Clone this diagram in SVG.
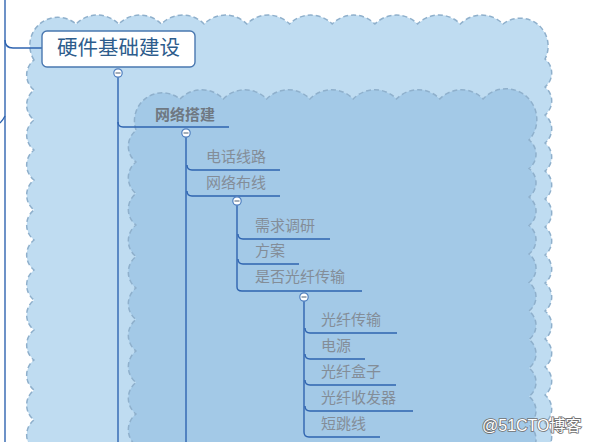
<svg xmlns="http://www.w3.org/2000/svg" width="591" height="442" viewBox="0 0 591 442">
<style>
.cloud{stroke:#8fb0cc;stroke-width:1.5;stroke-dasharray:5 3}
.ln{fill:none;stroke:#2f64b0;stroke-width:1.4}
.t{font-family:"Noto Sans CJK SC","Noto Sans",sans-serif;font-size:15px;fill:#838d98}
.tog{fill:#fff;stroke:#4f7fbf;stroke-width:1.2}
.minus{stroke:#6a7a8a;stroke-width:1.2}
</style>
<rect width="591" height="442" fill="#fff"/>
<g id="outer-cloud">
<path class="cloud" fill="#bfdcf1" d="M34,60 A28 28 0 0 1 76,24 a30 30 0 0 1 42.7 0 a30 30 0 0 1 42.7 0 a30 30 0 0 1 42.7 0 a30 30 0 0 1 42.7 0 a30 30 0 0 1 42.7 0 a30 30 0 0 1 42.7 0 a30 30 0 0 1 42.7 0 a30 30 0 0 1 42.7 0 a30 30 0 0 1 42.7 0 a30 30 0 0 1 42.7 0 A28 28 0 0 1 545,59 a18 18 0 0 1 0 28 a18 18 0 0 1 0 28 a18 18 0 0 1 0 28 a18 18 0 0 1 0 28 a18 18 0 0 1 0 28 a18 18 0 0 1 0 28 a18 18 0 0 1 0 28 a18 18 0 0 1 0 28 a18 18 0 0 1 0 28 a18 18 0 0 1 0 28 a18 18 0 0 1 0 28 a18 18 0 0 1 0 28 a18 18 0 0 1 0 28 a18 18 0 0 1 0 28 L545,480 L34,480 L34,450 a19 19 0 0 1 0 -30 a19 19 0 0 1 0 -30 a19 19 0 0 1 0 -30 a19 19 0 0 1 0 -30 a19 19 0 0 1 0 -30 a19 19 0 0 1 0 -30 a19 19 0 0 1 0 -30 a19 19 0 0 1 0 -30 a19 19 0 0 1 0 -30 a19 19 0 0 1 0 -30 a19 19 0 0 1 0 -30 a19 19 0 0 1 0 -30 a19 19 0 0 1 0 -30 Z"/>
</g>
<g id="inner-cloud">
<path class="cloud" fill="#a3c9e7" d="M136,130 A28 28 0 0 1 180,99 a30 30 0 0 1 43.3 0 a30 30 0 0 1 43.3 0 a30 30 0 0 1 43.3 0 a30 30 0 0 1 43.3 0 a30 30 0 0 1 43.3 0 a30 30 0 0 1 43.3 0 a30 30 0 0 1 43.3 0 A28 28 0 0 1 529,140 a18 18 0 0 1 0 28.5 a18 18 0 0 1 0 28.5 a18 18 0 0 1 0 28.5 a18 18 0 0 1 0 28.5 a18 18 0 0 1 0 28.5 a18 18 0 0 1 0 28.5 a18 18 0 0 1 0 28.5 a18 18 0 0 1 0 28.5 a18 18 0 0 1 0 28.5 a18 18 0 0 1 0 28.5 a18 18 0 0 1 0 28.5 L529,480 L136,480 L136,445.5 a20 20 0 0 1 0 -31.5 a20 20 0 0 1 0 -31.5 a20 20 0 0 1 0 -31.5 a20 20 0 0 1 0 -31.5 a20 20 0 0 1 0 -31.5 a20 20 0 0 1 0 -31.5 a20 20 0 0 1 0 -31.5 a20 20 0 0 1 0 -31.5 a20 20 0 0 1 0 -31.5 a20 20 0 0 1 0 -31.5 Z"/>
</g>
<g id="connectors">
<path class="ln" stroke-width="2" d="M5,0 V442"/>
<path class="ln" stroke="#5a87c0" stroke-width="1.5" d="M5,40 Q5,48 13,48 H42"/>
<path class="ln" stroke-width="1.2" d="M5,116 Q3,120 0,123"/>
<path class="ln" stroke-width="1.3" d="M118,77 V442"/>
<path class="ln" stroke-width="1.3" d="M118,122 Q118,127 123,127 H229"/>
<path class="ln" stroke-width="2.2" d="M186,137 V442"/>
<path class="ln" d="M187,165 Q187,170 192,170 H280"/>
<path class="ln" d="M187,191 Q187,196 192,196 H280"/>
<path class="ln" stroke-width="1.6" d="M237,205 V287 Q237,291 242,291 H362"/>
<path class="ln" d="M238,234 Q238,239 243,239 H330"/>
<path class="ln" d="M238,259 Q238,264 243,264 H299"/>
<path class="ln" stroke-width="1.6" d="M304,301 V432 Q304,437 309,437 H380"/>
<path class="ln" d="M305,328 Q305,333 310,333 H397"/>
<path class="ln" d="M305,354 Q305,359 310,359 H365"/>
<path class="ln" d="M305,380 Q305,385 310,385 H396"/>
<path class="ln" d="M305,406 Q305,411 310,411 H413"/>
</g>
<g id="node-root">
<rect x="42" y="31" width="153" height="36" rx="5" fill="#fff" stroke="#4a78b0" stroke-width="1.4"/>
<text x="118.5" y="55" text-anchor="middle" font-family="Noto Sans CJK SC,sans-serif" font-size="20.5" fill="#2d5c8c">硬件基础建设</text>
<circle class="tog" cx="118" cy="73" r="4.2"/><path class="minus" d="M115.5,73 H120.5"/>
</g>
<g id="node-network">
<text x="155" y="120" font-family="Noto Sans CJK SC,sans-serif" font-size="15" font-weight="bold" fill="#6f7882">网络搭建</text>
<circle class="tog" cx="186" cy="133" r="4.2"/><path class="minus" d="M183.5,133 H188.5"/>
</g>
<g id="node-phone"><text class="t" x="206" y="162">电话线路</text></g>
<g id="node-cabling">
<text class="t" x="206" y="188">网络布线</text>
<circle class="tog" cx="237" cy="201" r="4.2"/><path class="minus" d="M234.5,201 H239.5"/>
</g>
<g id="node-research"><text class="t" x="255" y="231">需求调研</text></g>
<g id="node-plan"><text class="t" x="255" y="256">方案</text></g>
<g id="node-fiber-q">
<text class="t" x="255" y="282">是否光纤传输</text>
<circle class="tog" cx="304" cy="297" r="4.2"/><path class="minus" d="M301.5,297 H306.5"/>
</g>
<g id="node-fiber"><text class="t" x="321" y="325">光纤传输</text></g>
<g id="node-power"><text class="t" x="321" y="351">电源</text></g>
<g id="node-box"><text class="t" x="321" y="377">光纤盒子</text></g>
<g id="node-transceiver"><text class="t" x="321" y="403">光纤收发器</text></g>
<g id="node-jumper"><text class="t" x="321" y="429">短跳线</text></g>
<text x="482" y="431" font-family="Liberation Sans,Noto Sans CJK SC,sans-serif" font-size="16" fill="#fff" stroke="#707070" stroke-width="1.6" paint-order="stroke fill">@51CTO博客</text>
</svg>
